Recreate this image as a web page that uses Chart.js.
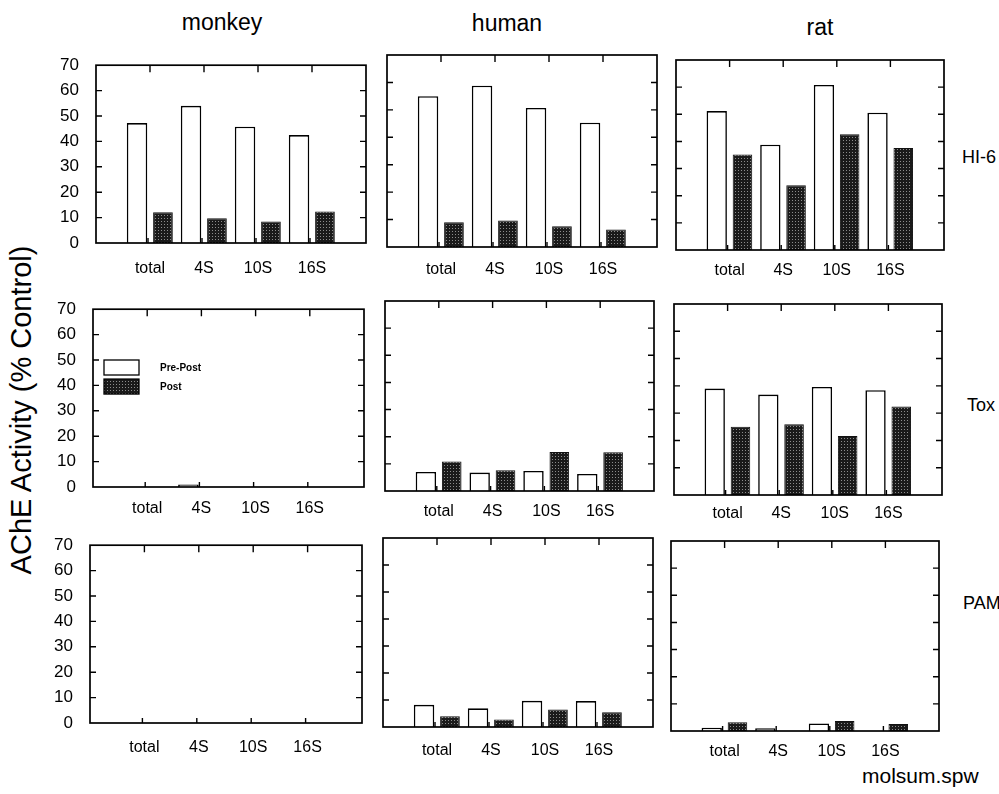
<!DOCTYPE html>
<html lang="en">
<head>
<meta charset="UTF-8">
<title>AChE Activity (% Control)</title>
<script src="https://cdn.jsdelivr.net/npm/chart.js"></script>
<style>
    body {
        margin: 0;
        width: 999px;
        height: 794px;
        position: relative;
        overflow: hidden;
        background: #fff;
        font-family: "Liberation Sans", Arial, sans-serif;
        color: #000;
    }
    canvas { position: absolute; }
    .txt {
        position: absolute;
        white-space: nowrap;
        transform: translate(-50%, -50%);
    }
    .left { transform: translate(0, -50%); }
    .title { font-size: 23px; }
    .row { font-size: 18px; }
    #ylab {
        font-size: 29px;
        transform: translate(-50%, -50%) rotate(-90deg);
    }
</style>
</head>
<body>

<div class="txt title" style="left:222px; top:22px;">monkey</div>
<div class="txt title" style="left:507px; top:23px;">human</div>
<div class="txt title" style="left:820px; top:27px;">rat</div>
<div class="txt" id="ylab" style="left:21px; top:410px;">AChE Activity (% Control)</div>
<div class="txt row left" style="left:962px; top:157px;">HI-6</div>
<div class="txt row left" style="left:967px; top:405px;">Tox</div>
<div class="txt row left" style="left:963px; top:603px;">PAM</div>
<div class="txt left" style="left:862px; top:776px; font-size:21px;">molsum.spw</div>

<script>
// categories and series
const categories = ['total', '4S', '10S', '16S'];
const seriesNames = ['Pre-Post', 'Post'];
const yMax = 70;

// HI-6 row
const monkeyHI6Pre  = [47.2, 54.0, 45.8, 42.5];
const monkeyHI6Post = [12.1, 9.7, 8.5, 12.4];
const humanHI6Pre   = [55.0, 58.8, 50.7, 45.3];
const humanHI6Post  = [9.0, 9.7, 7.6, 6.4];
const ratHI6Pre     = [51.2, 38.8, 60.8, 50.6];
const ratHI6Post    = [35.2, 23.9, 42.6, 37.6];

// Tox row
const monkeyToxPre  = [0, 1.0, 0, 0];
const monkeyToxPost = [0, 0, 0, 0];
const humanToxPre   = [7.0, 6.8, 7.4, 6.3];
const humanToxPost  = [10.9, 7.6, 14.4, 14.3];
const ratToxPre     = [39.0, 36.8, 39.6, 38.4];
const ratToxPost    = [25.0, 25.9, 21.6, 32.4];

// PAM row
const monkeyPAMPre  = [0, 0, 0, 0];
const monkeyPAMPost = [0, 0, 0, 0];
const humanPAMPre   = [8.2, 6.9, 9.7, 9.6];
const humanPAMPost  = [4.0, 2.8, 6.5, 5.5];
const ratPAMPre     = [1.2, 1.0, 2.8, 0];
const ratPAMPost    = [3.2, 0, 3.7, 2.6];

// plot boxes on the page: left, top, right, bottom; labelY = centre of x labels
const panels = [
    { pre: monkeyHI6Pre, post: monkeyHI6Post, box: [96, 54, 366, 243], labelY: 266 },
    { pre: humanHI6Pre,  post: humanHI6Post,  box: [387, 55, 657, 247], labelY: 267 },
    { pre: ratHI6Pre,    post: ratHI6Post,    box: [676, 60, 944, 250], labelY: 268 },
    { pre: monkeyToxPre, post: monkeyToxPost, box: [93, 298, 364, 487], labelY: 506, legend: true },
    { pre: humanToxPre,  post: humanToxPost,  box: [385, 301, 654, 491], labelY: 509 },
    { pre: ratToxPre,    post: ratToxPost,    box: [674, 304, 942, 495], labelY: 511 },
    { pre: monkeyPAMPre, post: monkeyPAMPost, box: [90, 534, 362, 723], labelY: 745 },
    { pre: humanPAMPre,  post: humanPAMPost,  box: [383, 538, 653, 727], labelY: 748 },
    { pre: ratPAMPre,    post: ratPAMPost,    box: [671, 541, 939, 731], labelY: 749 }
];

const YW = 50, XH = 40, PT = 8, PR = 8;

// dark stippled fill like the scanned bars
function stipple() {
    const c = document.createElement('canvas');
    c.width = 3; c.height = 3;
    const g = c.getContext('2d');
    g.fillStyle = '#1a1a1a';
    g.fillRect(0, 0, 3, 3);
    g.fillStyle = '#8c8c8c';
    g.fillRect(1, 1, 1, 1);
    return g.createPattern(c, 'repeat');
}
const darkFill = stipple();

// frame with inward ticks
const framePlugin = {
    id: 'frame',
    afterDatasetsDraw(chart) {
        const { ctx, chartArea: a, scales: { x, y } } = chart;
        ctx.save();
        ctx.strokeStyle = '#000';
        ctx.lineWidth = 1.7;
        ctx.strokeRect(a.left, a.top, a.right - a.left, a.bottom - a.top);
        ctx.lineWidth = 1.4;
        ctx.beginPath();
        y.ticks.forEach(t => {
            if (t.value <= 0 || t.value >= yMax) return;
            const py = y.getPixelForValue(t.value);
            ctx.moveTo(a.left, py); ctx.lineTo(a.left + 6, py);
            ctx.moveTo(a.right, py); ctx.lineTo(a.right - 6, py);
        });
        for (let i = 1; i <= categories.length; i++) {
            const px = x.getPixelForValue(i);
            ctx.moveTo(px, a.top); ctx.lineTo(px, a.top + 7);
            ctx.moveTo(px - 2, a.bottom); ctx.lineTo(px - 2, a.bottom - 5);
        }
        ctx.stroke();
        ctx.restore();
    }
};

// legend drawn inside the plot area
const innerLegend = {
    id: 'innerLegend',
    afterDraw(chart) {
        if (!chart.options.plugins.innerLegend.show) return;
        const { ctx, chartArea: a, scales: { y } } = chart;
        ctx.save();
        chart.data.datasets.forEach((ds, i) => {
            const top = y.getPixelForValue(50 - i * 7.5);
            const h = 15;
            ctx.fillStyle = ds.backgroundColor;
            ctx.fillRect(a.left + 11, top, 35, h);
            ctx.strokeStyle = '#000';
            ctx.lineWidth = 1.3;
            ctx.strokeRect(a.left + 11, top, 35, h);
            ctx.fillStyle = '#000';
            ctx.font = 'bold 10px "Liberation Sans", Arial, sans-serif';
            ctx.textBaseline = 'middle';
            ctx.fillText(ds.label, a.left + 67, top + h / 2 + 1);
        });
        ctx.restore();
    }
};

function pad(arr) {
    return [null, ...arr, null];
}

panels.forEach((p, idx) => {
    const [l, t, r, b] = p.box;
    const cv = document.createElement('canvas');
    cv.width = (r - l) + YW + PR;
    cv.height = (b - t) + PT + XH;
    cv.style.left = (l - YW) + 'px';
    cv.style.top = (t - PT) + 'px';
    document.body.appendChild(cv);

    const firstCol = idx % 3 === 0;

    new Chart(cv.getContext('2d'), {
        type: 'bar',
        data: {
            labels: ['', ...categories, ''],
            datasets: [
                {
                    label: seriesNames[0],
                    data: pad(p.pre),
                    backgroundColor: '#ffffff',
                    borderColor: '#000',
                    borderWidth: 1.6,
                    categoryPercentage: 0.96,
                    barPercentage: 0.79
                },
                {
                    label: seriesNames[1],
                    data: pad(p.post),
                    backgroundColor: darkFill,
                    borderColor: '#111',
                    borderWidth: 1,
                    categoryPercentage: 0.96,
                    barPercentage: 0.76
                }
            ]
        },
        options: {
            responsive: false,
            animation: false,
            layout: { padding: { top: PT, right: PR, left: 0, bottom: 0 } },
            plugins: {
                legend: { display: false },
                tooltip: { enabled: false },
                innerLegend: { show: !!p.legend }
            },
            scales: {
                x: {
                    offset: false,
                    grid: { display: false },
                    border: { display: false },
                    ticks: {
                        autoSkip: false,
                        maxRotation: 0,
                        padding: Math.max(0, p.labelY - b - 15),
                        color: '#000',
                        font: { size: 16, family: '"Liberation Sans", Arial, sans-serif' }
                    },
                    afterFit: s => { s.height = XH; }
                },
                y: {
                    min: 0,
                    max: yMax,
                    grid: { display: false },
                    border: { display: false },
                    ticks: {
                        stepSize: 10,
                        display: firstCol,
                        padding: 9,
                        color: '#000',
                        font: { size: 17, family: '"Liberation Sans", Arial, sans-serif' }
                    },
                    afterFit: s => { s.width = YW; }
                }
            }
        },
        plugins: [framePlugin, innerLegend]
    });
});
</script>
</body>
</html>
